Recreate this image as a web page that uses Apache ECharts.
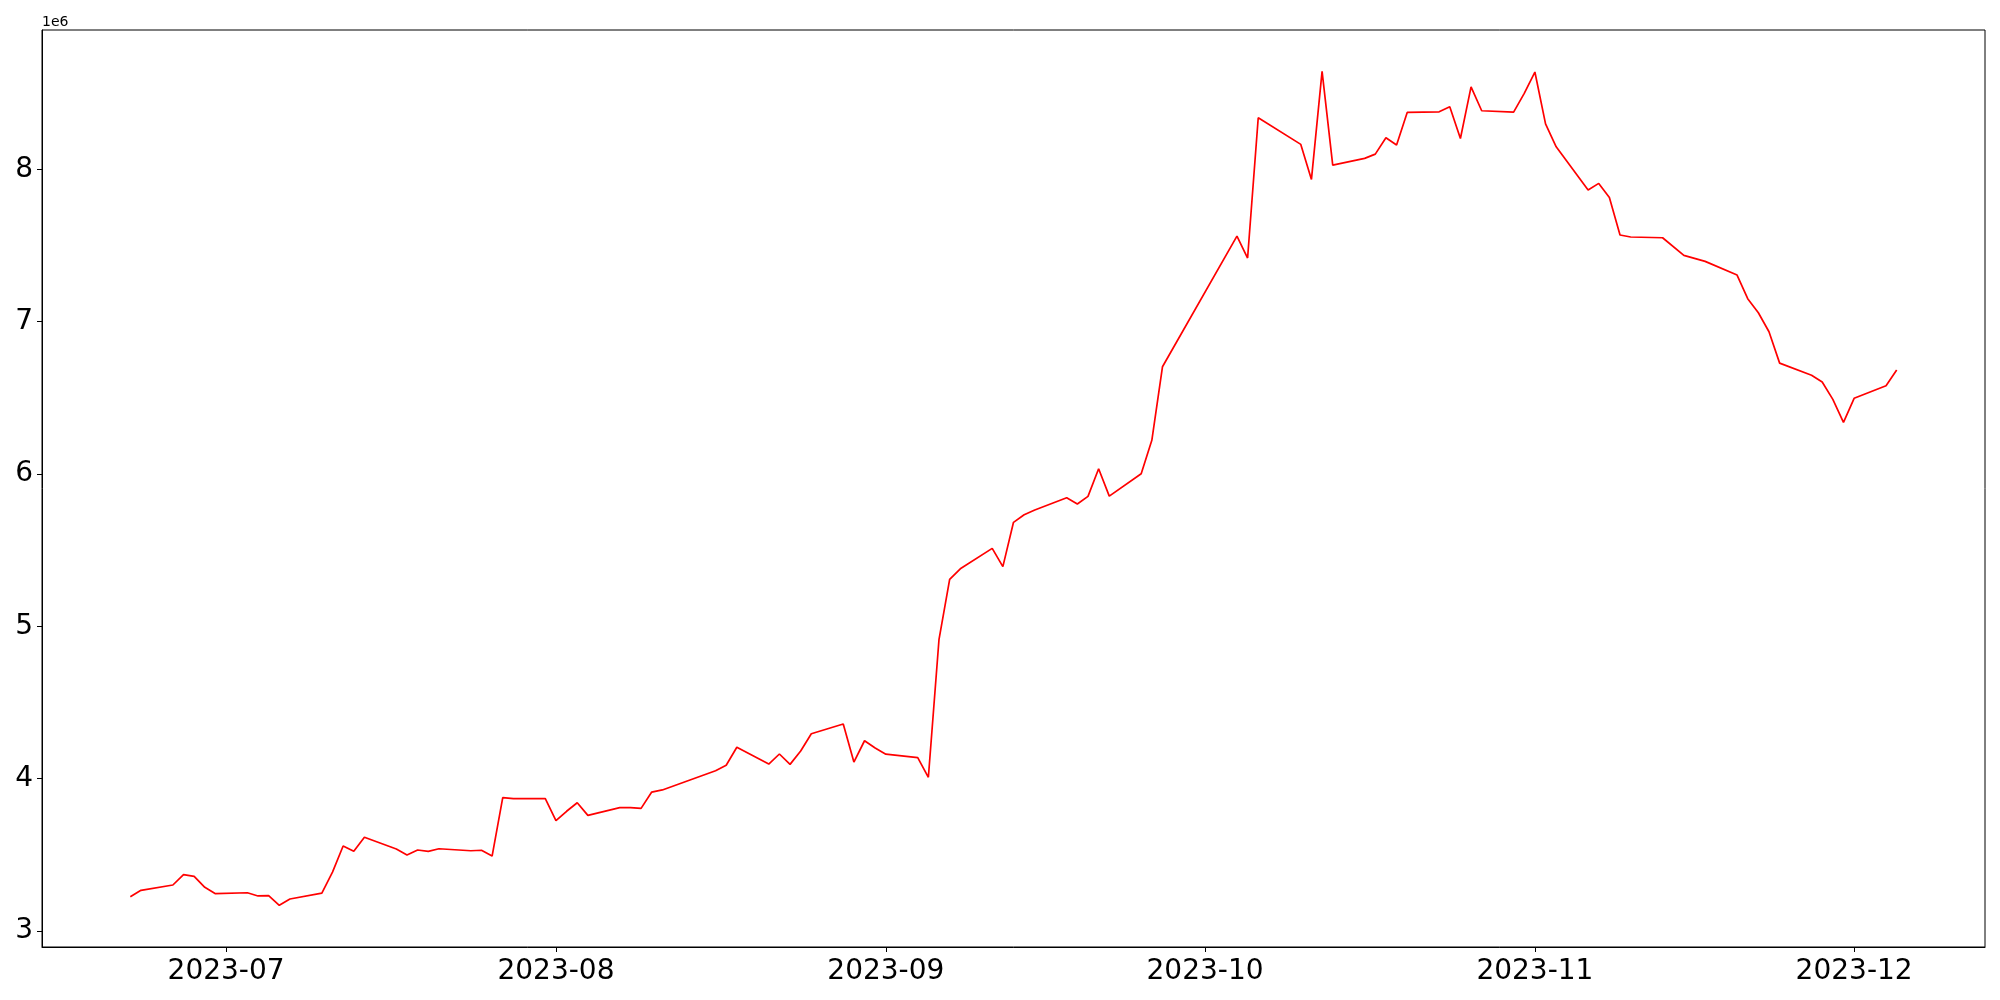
<!DOCTYPE html>
<html>
<head>
<meta charset="utf-8">
<script src="https://cdn.jsdelivr.net/npm/echarts@6/dist/echarts.min.js"></script>
<style>
  html, body { margin: 0; padding: 0; background: #fff; }
  #chart { width: 2000px; height: 1000px; }
</style>
</head>
<body>
<div id="chart"></div>
<script>
// trading days
var dates = [
  '2023-06-22','2023-06-23','2023-06-26','2023-06-27','2023-06-28','2023-06-29','2023-06-30',
  '2023-07-03','2023-07-04','2023-07-05','2023-07-06','2023-07-07',
  '2023-07-10','2023-07-11','2023-07-12','2023-07-13','2023-07-14',
  '2023-07-17','2023-07-18','2023-07-19','2023-07-20','2023-07-21',
  '2023-07-24','2023-07-25','2023-07-26','2023-07-27','2023-07-28',
  '2023-07-31','2023-08-01','2023-08-02','2023-08-03','2023-08-04',
  '2023-08-07','2023-08-08','2023-08-09','2023-08-10','2023-08-11',
  '2023-08-16','2023-08-17','2023-08-18',
  '2023-08-21','2023-08-22','2023-08-23','2023-08-24','2023-08-25',
  '2023-08-28','2023-08-29','2023-08-30','2023-08-31','2023-09-01',
  '2023-09-04','2023-09-05','2023-09-06','2023-09-07','2023-09-08',
  '2023-09-11','2023-09-12','2023-09-13','2023-09-14','2023-09-15',
  '2023-09-18','2023-09-19','2023-09-20','2023-09-21','2023-09-22',
  '2023-09-25','2023-09-26','2023-09-27',
  '2023-10-04','2023-10-05','2023-10-06',
  '2023-10-10','2023-10-11','2023-10-12','2023-10-13',
  '2023-10-16','2023-10-17','2023-10-18','2023-10-19','2023-10-20',
  '2023-10-23','2023-10-24','2023-10-25','2023-10-26','2023-10-27',
  '2023-10-30','2023-10-31','2023-11-01','2023-11-02','2023-11-03',
  '2023-11-06','2023-11-07','2023-11-08','2023-11-09','2023-11-10',
  '2023-11-13','2023-11-15','2023-11-17',
  '2023-11-20','2023-11-21','2023-11-22','2023-11-23','2023-11-24',
  '2023-11-27','2023-11-28','2023-11-29','2023-11-30','2023-12-01',
  '2023-12-04','2023-12-05'
];

var values = [
  3225000, 3267000, 3302000, 3370000, 3359000, 3287000, 3245000,
  3251000, 3230000, 3232000, 3169000, 3210000,
  3249000, 3387000, 3558000, 3523000, 3615000,
  3538000, 3499000, 3532000, 3523000, 3540000,
  3527000, 3530000, 3492000, 3875000, 3869000,
  3869000, 3724000, 3786000, 3842000, 3759000,
  3810000, 3810000, 3805000, 3912000, 3926000,
  4052000, 4088000, 4206000,
  4096000, 4162000, 4094000, 4182000, 4295000,
  4359000, 4109000, 4249000, 4201000, 4161000,
  4138000, 4009000, 4915000, 5309000, 5378000,
  5512000, 5392000, 5683000, 5733000, 5764000,
  5844000, 5803000, 5853000, 6035000, 5855000,
  6002000, 6221000, 6704000,
  7562000, 7418000, 8339000,
  8164000, 7934000, 8643000, 8028000,
  8072000, 8100000, 8208000, 8160000, 8374000,
  8378000, 8411000, 8203000, 8542000, 8385000,
  8376000, 8499000, 8639000, 8299000, 8148000,
  7864000, 7908000, 7816000, 7569000, 7556000,
  7551000, 7435000, 7396000,
  7306000, 7151000, 7059000, 6934000, 6728000,
  6648000, 6604000, 6490000, 6339000, 6497000,
  6580000, 6683000
];

var monthTicks = ['2023-07-01', '2023-08-01', '2023-09-01', '2023-10-01', '2023-11-01', '2023-12-01'];
var yTicks = [3000000, 4000000, 5000000, 6000000, 7000000, 8000000];

function toTime(s) {
  var p = s.split('-');
  return new Date(+p[0], +p[1] - 1, +p[2]).getTime();
}

function monthLabel(v) {
  var d = new Date(v);
  var m = d.getMonth() + 1;
  return d.getFullYear() + '-' + (m < 10 ? '0' + m : m);
}

var seriesData = dates.map(function (d, i) { return [toTime(d), values[i]]; });
var xTickTimes = monthTicks.map(toTime);

// matplotlib style 5% margins on the x range
var t0 = seriesData[0][0], t1 = seriesData[seriesData.length - 1][0];
var pad = (t1 - t0) * 0.05;

var mychart = echarts.init(document.getElementById('chart'));
mychart.setOption({
  animation: false,
  textStyle: { fontFamily: 'DejaVu Sans' },
  title: {
    text: '1e6',
    left: 42,
    top: 15,
    padding: 0,
    textStyle: { fontSize: 14, fontWeight: 'normal', color: '#000', fontFamily: 'DejaVu Sans' }
  },
  grid: {
    left: 42,
    top: 30,
    width: 1943,
    height: 917,
    show: true,
    borderColor: '#000',
    borderWidth: 1,
    backgroundColor: 'transparent',
    outerBoundsMode: 'none'
  },
  xAxis: {
    type: 'value',
    min: t0 - pad,
    max: t1 + pad,
    axisLine: { show: true, lineStyle: { color: '#000', width: 1 } },
    axisTick: { show: true, length: 5, lineStyle: { color: '#000' }, customValues: xTickTimes },
    axisLabel: {
      customValues: xTickTimes,
      fontSize: 28,
      fontFamily: 'DejaVu Sans',
      color: '#000',
      margin: 11,
      formatter: monthLabel
    },
    splitLine: { show: false }
  },
  yAxis: {
    type: 'value',
    min: 2895000,
    max: 8915000,
    axisLine: { show: true, lineStyle: { color: '#000', width: 1 } },
    axisTick: { show: true, length: 5, lineStyle: { color: '#000' }, customValues: yTicks },
    axisLabel: {
      customValues: yTicks,
      fontSize: 28,
      fontFamily: 'DejaVu Sans',
      color: '#000',
      margin: 9,
      formatter: function (v) { return String(Math.round(v / 1e6)); }
    },
    splitLine: { show: false }
  },
  series: [
    {
      type: 'line',
      data: seriesData,
      showSymbol: false,
      lineStyle: { color: '#ff0000', width: 1.7 },
      itemStyle: { color: '#ff0000' }
    }
  ]
});
</script>
</body>
</html>
